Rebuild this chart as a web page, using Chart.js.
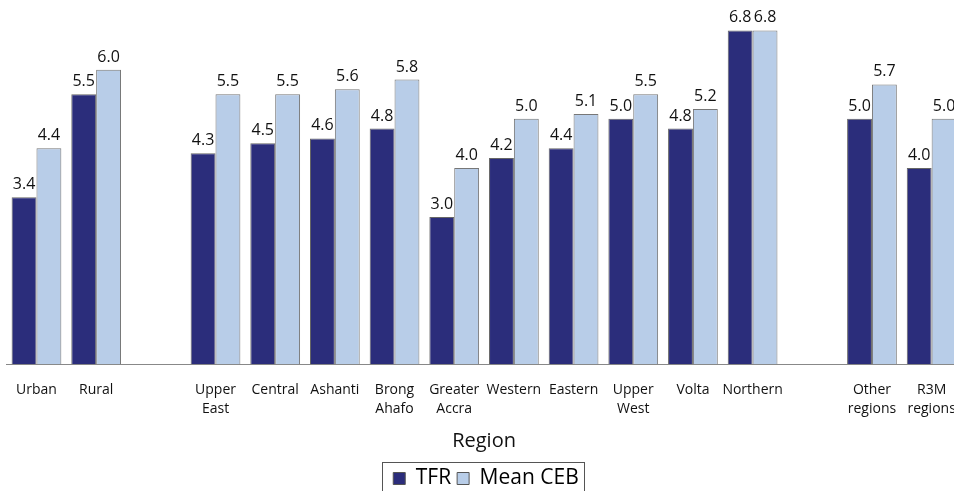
<!DOCTYPE html>
<html>
<head>
<meta charset="utf-8">
<script src="https://cdn.jsdelivr.net/npm/chart.js@4.4.1/dist/chart.umd.min.js"></script>
<style>
  html, body { margin: 0; padding: 0; background: #fff; overflow: hidden; width: 954px; height: 491px; }
  #wrap { position: absolute; left: 0; top: 0; width: 972px; height: 499px; }
</style>
</head>
<body>
<div id="wrap"><canvas id="c"></canvas></div>
<script>
const categories = [
  "Urban", "Rural", "",
  ["Upper", "East"], "Central", "Ashanti", ["Brong", "Ahafo"], ["Greater", "Accra"],
  "Western", "Eastern", ["Upper", "West"], "Volta", "Northern", "",
  ["Other", "regions"], ["R3M", "regions"]
];
const tfr = [3.4, 5.5, null, 4.3, 4.5, 4.6, 4.8, 3.0, 4.2, 4.4, 5.0, 4.8, 6.8, null, 5.0, 4.0];
const meanCeb = [4.4, 6.0, null, 5.5, 5.5, 5.6, 5.8, 4.0, 5.0, 5.1, 5.5, 5.2, 6.8, null, 5.7, 5.0];

const FONT = "'Open Sans', 'DejaVu Sans', sans-serif";

const valueLabels = {
  id: 'valueLabels',
  afterDatasetsDraw(chart) {
    const ctx = chart.ctx;
    ctx.save();
    ctx.font = "16px " + FONT;
    ctx.fillStyle = "#111";
    ctx.textAlign = "center";
    ctx.textBaseline = "alphabetic";
    chart.data.datasets.forEach((ds, di) => {
      const meta = chart.getDatasetMeta(di);
      meta.data.forEach((bar, i) => {
        const v = ds.data[i];
        if (v === null || v === undefined) return;
        ctx.fillText(v.toFixed(1), bar.x, bar.y - 8);
      });
    });
    ctx.restore();
  }
};

const legendFrame = {
  id: 'legendFrame',
  afterDraw(chart) {
    const lg = chart.legend;
    if (!lg || !lg.legendHitBoxes || !lg.legendHitBoxes.length) return;
    const boxes = lg.legendHitBoxes;
    let l = Infinity, r = -Infinity, t = Infinity, b = -Infinity;
    boxes.forEach(h => {
      l = Math.min(l, h.left); r = Math.max(r, h.left + h.width);
      t = Math.min(t, h.top); b = Math.max(b, h.top + h.height);
    });
    const ctx = chart.ctx;
    ctx.save();
    ctx.strokeStyle = "#555";
    ctx.lineWidth = 1;
    ctx.strokeRect(Math.round(l - 11) + 0.5, Math.round(t - 6) + 0.5, Math.round(r - l + 16), Math.round(b - t + 24));
    ctx.restore();
  }
};

new Chart(document.getElementById('c'), {
  type: 'bar',
  data: {
    labels: categories,
    datasets: [
      { label: 'TFR', data: tfr, backgroundColor: '#2b2d7b', borderColor: '#666', borderWidth: 1,
        categoryPercentage: 0.8333, barPercentage: 1.0 },
      { label: 'Mean CEB', data: meanCeb, backgroundColor: '#b8cde8', borderColor: '#777', borderWidth: 1,
        categoryPercentage: 0.8333, barPercentage: 1.0 }
    ]
  },
  options: {
    responsive: true,
    maintainAspectRatio: false,
    animation: false,
    layout: { padding: { left: 6, right: 6, top: 1, bottom: 0 } },
    plugins: {
      tooltip: { enabled: false },
      legend: {
        position: 'bottom',
        labels: {
          font: { family: FONT, size: 21 },
          color: '#111',
          boxWidth: 12,
          boxHeight: 12,
          padding: 6,
          generateLabels(chart) {
            return chart.data.datasets.map((ds, i) => ({
              text: ds.label,
              fillStyle: ds.backgroundColor,
              strokeStyle: '#555',
              lineWidth: 1,
              datasetIndex: i,
              hidden: false
            }));
          }
        }
      }
    },
    scales: {
      x: {
        grid: { display: false, drawTicks: false },
        border: { display: true, color: '#888', width: 1 },
        ticks: { font: { family: FONT, size: 14, lineHeight: 1.35 }, color: '#111', padding: 16, maxRotation: 0, autoSkip: false },
        title: { display: true, text: 'Region', font: { family: FONT, size: 20 }, color: '#111', padding: { top: -5, bottom: 9 } }
      },
      y: {
        display: false,
        min: 0,
        max: 7.4
      }
    }
  },
  plugins: [valueLabels, legendFrame]
});
</script>
</body>
</html>
